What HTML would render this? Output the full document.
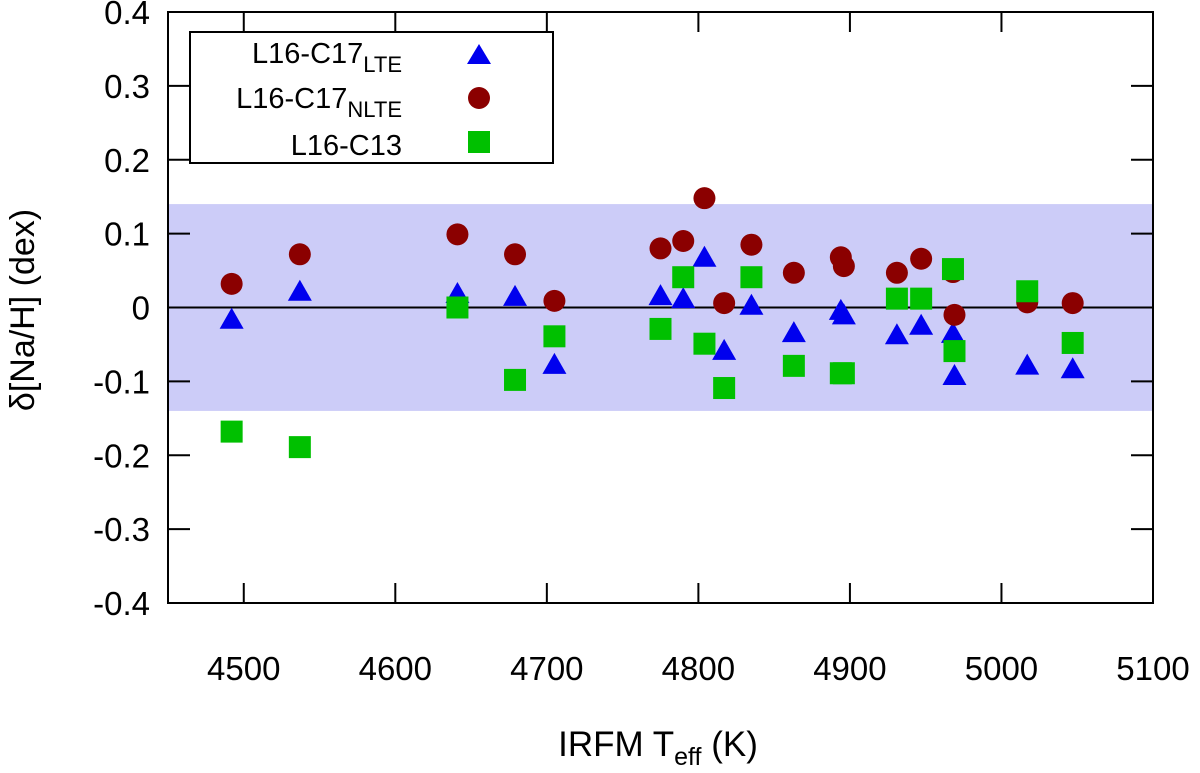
<!DOCTYPE html>
<html><head><meta charset="utf-8"><style>
body{margin:0;background:#fff;}
svg text{font-family:"Liberation Sans",sans-serif;fill:#000;}
</style></head><body>
<svg id="chart" width="1200" height="768" viewBox="0 0 1200 768" xmlns="http://www.w3.org/2000/svg">
<g id="band"></g><g id="grid"></g><g id="marks"></g><g id="axes"></g><g id="legend"></g>
</svg>
<script>
const temps = [4492,4537,4641,4679,4705,4775,4790,4804,4817,4835,4863,4894,4896,4931,4947,4968,4969,5017,5047];
const lteVals = [-0.018,0.020,0.017,0.013,-0.079,0.014,0.010,0.066,-0.060,0.001,-0.036,-0.006,-0.012,-0.039,-0.026,-0.037,-0.094,-0.080,-0.085];
const nlteVals = [0.032,0.072,0.099,0.072,0.009,0.080,0.090,0.148,0.006,0.085,0.047,0.068,0.056,0.047,0.066,0.048,-0.010,0.007,0.006];
const c13Vals = [-0.168,-0.189,0.0,-0.098,-0.039,-0.029,0.041,-0.049,-0.109,0.041,-0.079,-0.089,-0.089,0.012,0.012,0.052,-0.059,0.022,-0.048];
const xTicks = [4500,4600,4700,4800,4900,5000,5100];
const yTicks = [-0.4,-0.3,-0.2,-0.1,0,0.1,0.2,0.3,0.4];
const bandLimit = 0.14;

const L=168,R=1153,T=12,B=603;
const xMin=4450,xMax=5100,yMin=-0.4,yMax=0.4;
const X=v=>L+(v-xMin)/(xMax-xMin)*(R-L);
const Y=v=>B-(v-yMin)/(yMax-yMin)*(B-T);
const NS="http://www.w3.org/2000/svg";
function mk(tag,parent,attrs){const e=document.createElementNS(NS,tag);for(const k in attrs)e.setAttribute(k,attrs[k]);document.getElementById(parent).appendChild(e);return e;}

let band=mk('rect','band',{x:L,y:Y(bandLimit),width:R-L,height:Y(-bandLimit)-Y(bandLimit),fill:'#ccccf8'});


let zl=mk('line','grid',{x1:L,x2:R,y1:Y(0),y2:Y(0),stroke:'#000','stroke-width':2});



temps.forEach((t,i)=>{
  const x=X(t);
  let tr=mk('polygon','marks',{points:`${x-12},${Y(lteVals[i])+8} ${x+12},${Y(lteVals[i])+8} ${x},${Y(lteVals[i])-13}`,fill:'#0000ee'});
  
  
  let c=mk('circle','marks',{cx:x,cy:Y(nlteVals[i]),r:11,fill:'#8b0000'});
  
  
});
temps.forEach((t,i)=>{
  const x=X(t);
  let s=mk('rect','marks',{x:x-11,y:Y(c13Vals[i])-11,width:22,height:22,fill:'#00c000'});
  
  
});

let fr=mk('rect','axes',{x:L,y:T,width:R-L,height:B-T,fill:'none',stroke:'#000','stroke-width':2});


xTicks.forEach(v=>{
  const x=X(v);
  if(v<xMax){mk('line','axes',{x1:x,x2:x,y1:B,y2:B-20,stroke:'#000','stroke-width':2});
  mk('line','axes',{x1:x,x2:x,y1:T,y2:T+20,stroke:'#000','stroke-width':2});}
  let tx=mk('text','axes',{x:x,y:680,'font-size':33,'text-anchor':'middle'});
  tx.textContent=v;
  
  
});
yTicks.forEach(v=>{
  const y=Y(v);
  if(v>yMin&&v<yMax){mk('line','axes',{x1:L,x2:L+22,y1:y,y2:y,stroke:'#000','stroke-width':2});
  mk('line','axes',{x1:R,x2:R-22,y1:y,y2:y,stroke:'#000','stroke-width':2});}
  let tx=mk('text','axes',{x:150,y:y+12,'font-size':33,'text-anchor':'end'});
  tx.textContent=(v===0?'0':v.toFixed(1));
  
  
});
</script>
<script>
(function(){
const NS="http://www.w3.org/2000/svg";
const svg=document.getElementById('chart');
const ax=document.createElementNS(NS,'text');
ax.setAttribute('x',658);ax.setAttribute('y',756);ax.setAttribute('font-size',35);ax.setAttribute('text-anchor','middle');
ax.innerHTML='IRFM T<tspan font-size="25" dy="9">eff</tspan><tspan dy="-9"> (K)</tspan>';


svg.appendChild(ax);
const ay=document.createElementNS(NS,'text');
ay.setAttribute('transform','translate(34,310) rotate(-90)');ay.setAttribute('font-size',34);ay.setAttribute('text-anchor','middle');
ay.textContent='δ[Na/H] (dex)';


svg.appendChild(ay);
const lg=document.getElementById('legend');


lg.innerHTML='<rect x="190" y="32" width="363" height="131" fill="#fff" stroke="#000" stroke-width="2"/>'+
'<text x="402" y="63" font-size="29" text-anchor="end">L16-C17<tspan font-size="22" dy="9">LTE</tspan></text>'+
'<polygon points="467,64 491,64 479,44" fill="#0000ee"/>'+
'<text x="402" y="108" font-size="29" text-anchor="end">L16-C17<tspan font-size="22" dy="9">NLTE</tspan></text>'+
'<circle cx="479" cy="98" r="11" fill="#8b0000"/>'+
'<text x="402" y="155" font-size="29" text-anchor="end">L16-C13</text>'+
'<rect x="468" y="131" width="22" height="22" fill="#00c000"/>';
})();
</script>
</body></html>
